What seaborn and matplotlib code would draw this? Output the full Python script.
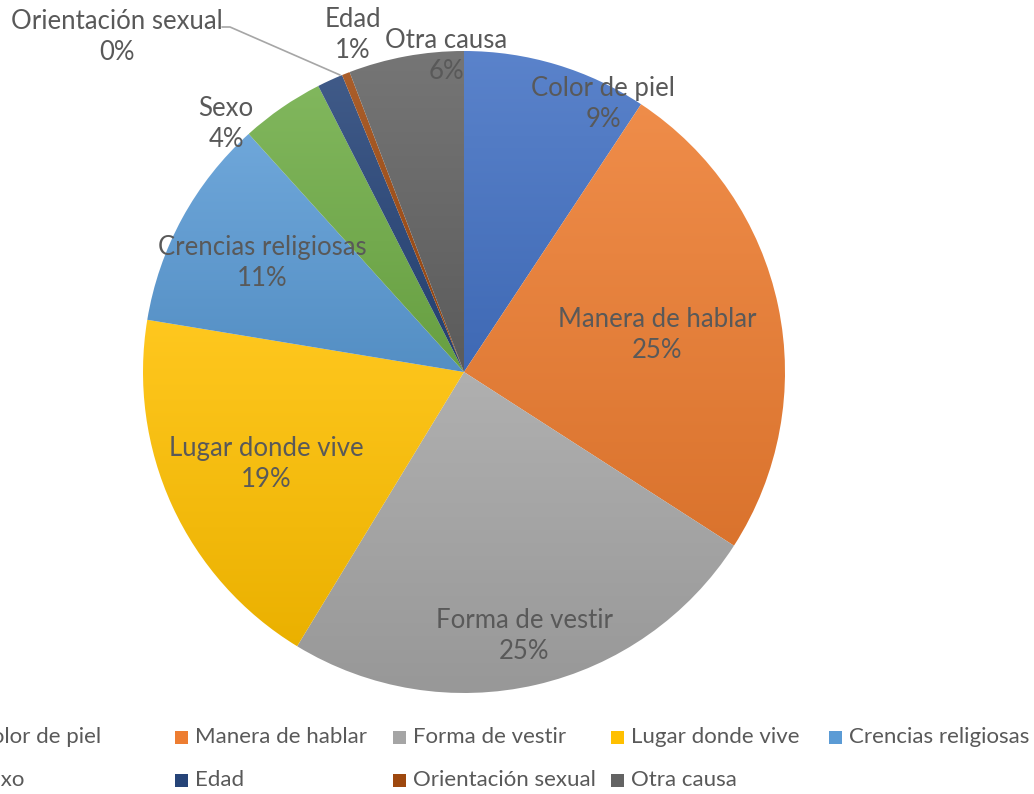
import numpy as np
import matplotlib
matplotlib.use("Agg")
import matplotlib.pyplot as plt
import seaborn as sns
from matplotlib.colors import to_rgb
from matplotlib.patches import Rectangle

sns.set_style("white")
plt.rcParams['font.family'] = ['Lato', 'DejaVu Sans']

# data (percent of responses)
causas = ['Color de piel', 'Manera de hablar', 'Forma de vestir', 'Lugar donde vive',
          'Crencias religiosas', 'Sexo', 'Edad', 'Orientación sexual', 'Otra causa']
valores = [9.3, 24.8, 24.6, 18.9, 10.7, 4.2, 1.3, 0.4, 5.8]
colores = ['#4472C4', '#ED7D31', '#A5A5A5', '#FFC000', '#5B9BD5',
           '#70AD47', '#264478', '#9E480E', '#636363']

# label positions (in pie radii, relative to center)
label_pos = [(0.433, 0.835), (0.601, 0.115), (0.187, -0.822), (-0.617, -0.287),
             (-0.629, 0.340), (-0.741, 0.773), (-0.346, 1.050), (-1.081, 1.044),
             (-0.056, 0.984)]

W, H = 1034, 794
cx, cy, R = 464, 372, 321
fig = plt.figure(figsize=(W / 100, H / 100), dpi=100)
ax = fig.add_axes([0, 0, 1, 1])
ax.set_xlim(-cx / R, (W - cx) / R)
ax.set_ylim(-(H - cy) / R, cy / R)
ax.axis('off')

wedges, _ = ax.pie(valores, colors=colores, startangle=90, counterclock=False,
                   radius=1.0, wedgeprops=dict(linewidth=0))


def shade(c, f):
    r = np.array(to_rgb(c))
    if f > 0:
        return r + (1 - r) * f
    return r * (1 + f)


# Excel-like vertical gradient on each slice
for w, c in zip(wedges, colores):
    w.set_facecolor('none')
    bb = w.get_path().get_extents(w.get_transform() + ax.transData.inverted())
    top, bot = shade(c, 0.12), shade(c, -0.08)
    t = np.linspace(0, 1, 200)[:, None]
    grad = top[None, :] * (1 - t) + bot[None, :] * t
    img = ax.imshow(grad[:, None, :], extent=[bb.x0, bb.x1, bb.y0, bb.y1],
                    aspect='auto', origin='upper', zorder=1, interpolation='bilinear')
    img.set_clip_path(w)
ax.set_xlim(-cx / R, (W - cx) / R)
ax.set_ylim(-(H - cy) / R, cy / R)

tcol = '#595959'
for nombre, v, (lx, ly) in zip(causas, valores, label_pos):
    ax.text(lx, ly, f"{nombre}\n{round(v):d}%", ha='center', va='center',
            fontsize=18.5, color=tcol, linespacing=1.3, zorder=5)

# leader line for the tiny slice
ax.plot([(222 - cx) / R, (230 - cx) / R, (340 - cx) / R],
        [(cy - 27) / R, (cy - 27) / R, (cy - 75) / R], color='#A6A6A6', lw=1.2, zorder=4)

# legend (Excel style, equal column widths, clipped at the left)
col_w, x0 = 218, -43
rows_y = [737, 780]
for i, (nombre, c) in enumerate(zip(causas, colores)):
    row, col = divmod(i, 5)
    mx = x0 + col * col_w
    my = rows_y[row]
    fig.patches.append(Rectangle((mx / W, 1 - (my + 6.5) / H), 13 / W, 13 / H,
                                 transform=fig.transFigure, facecolor=c, edgecolor='none'))
    fig.text((mx + 20) / W, 1 - my / H, nombre, ha='left', va='center',
             fontsize=16, color=tcol)

fig.savefig('out.png', dpi=100)
